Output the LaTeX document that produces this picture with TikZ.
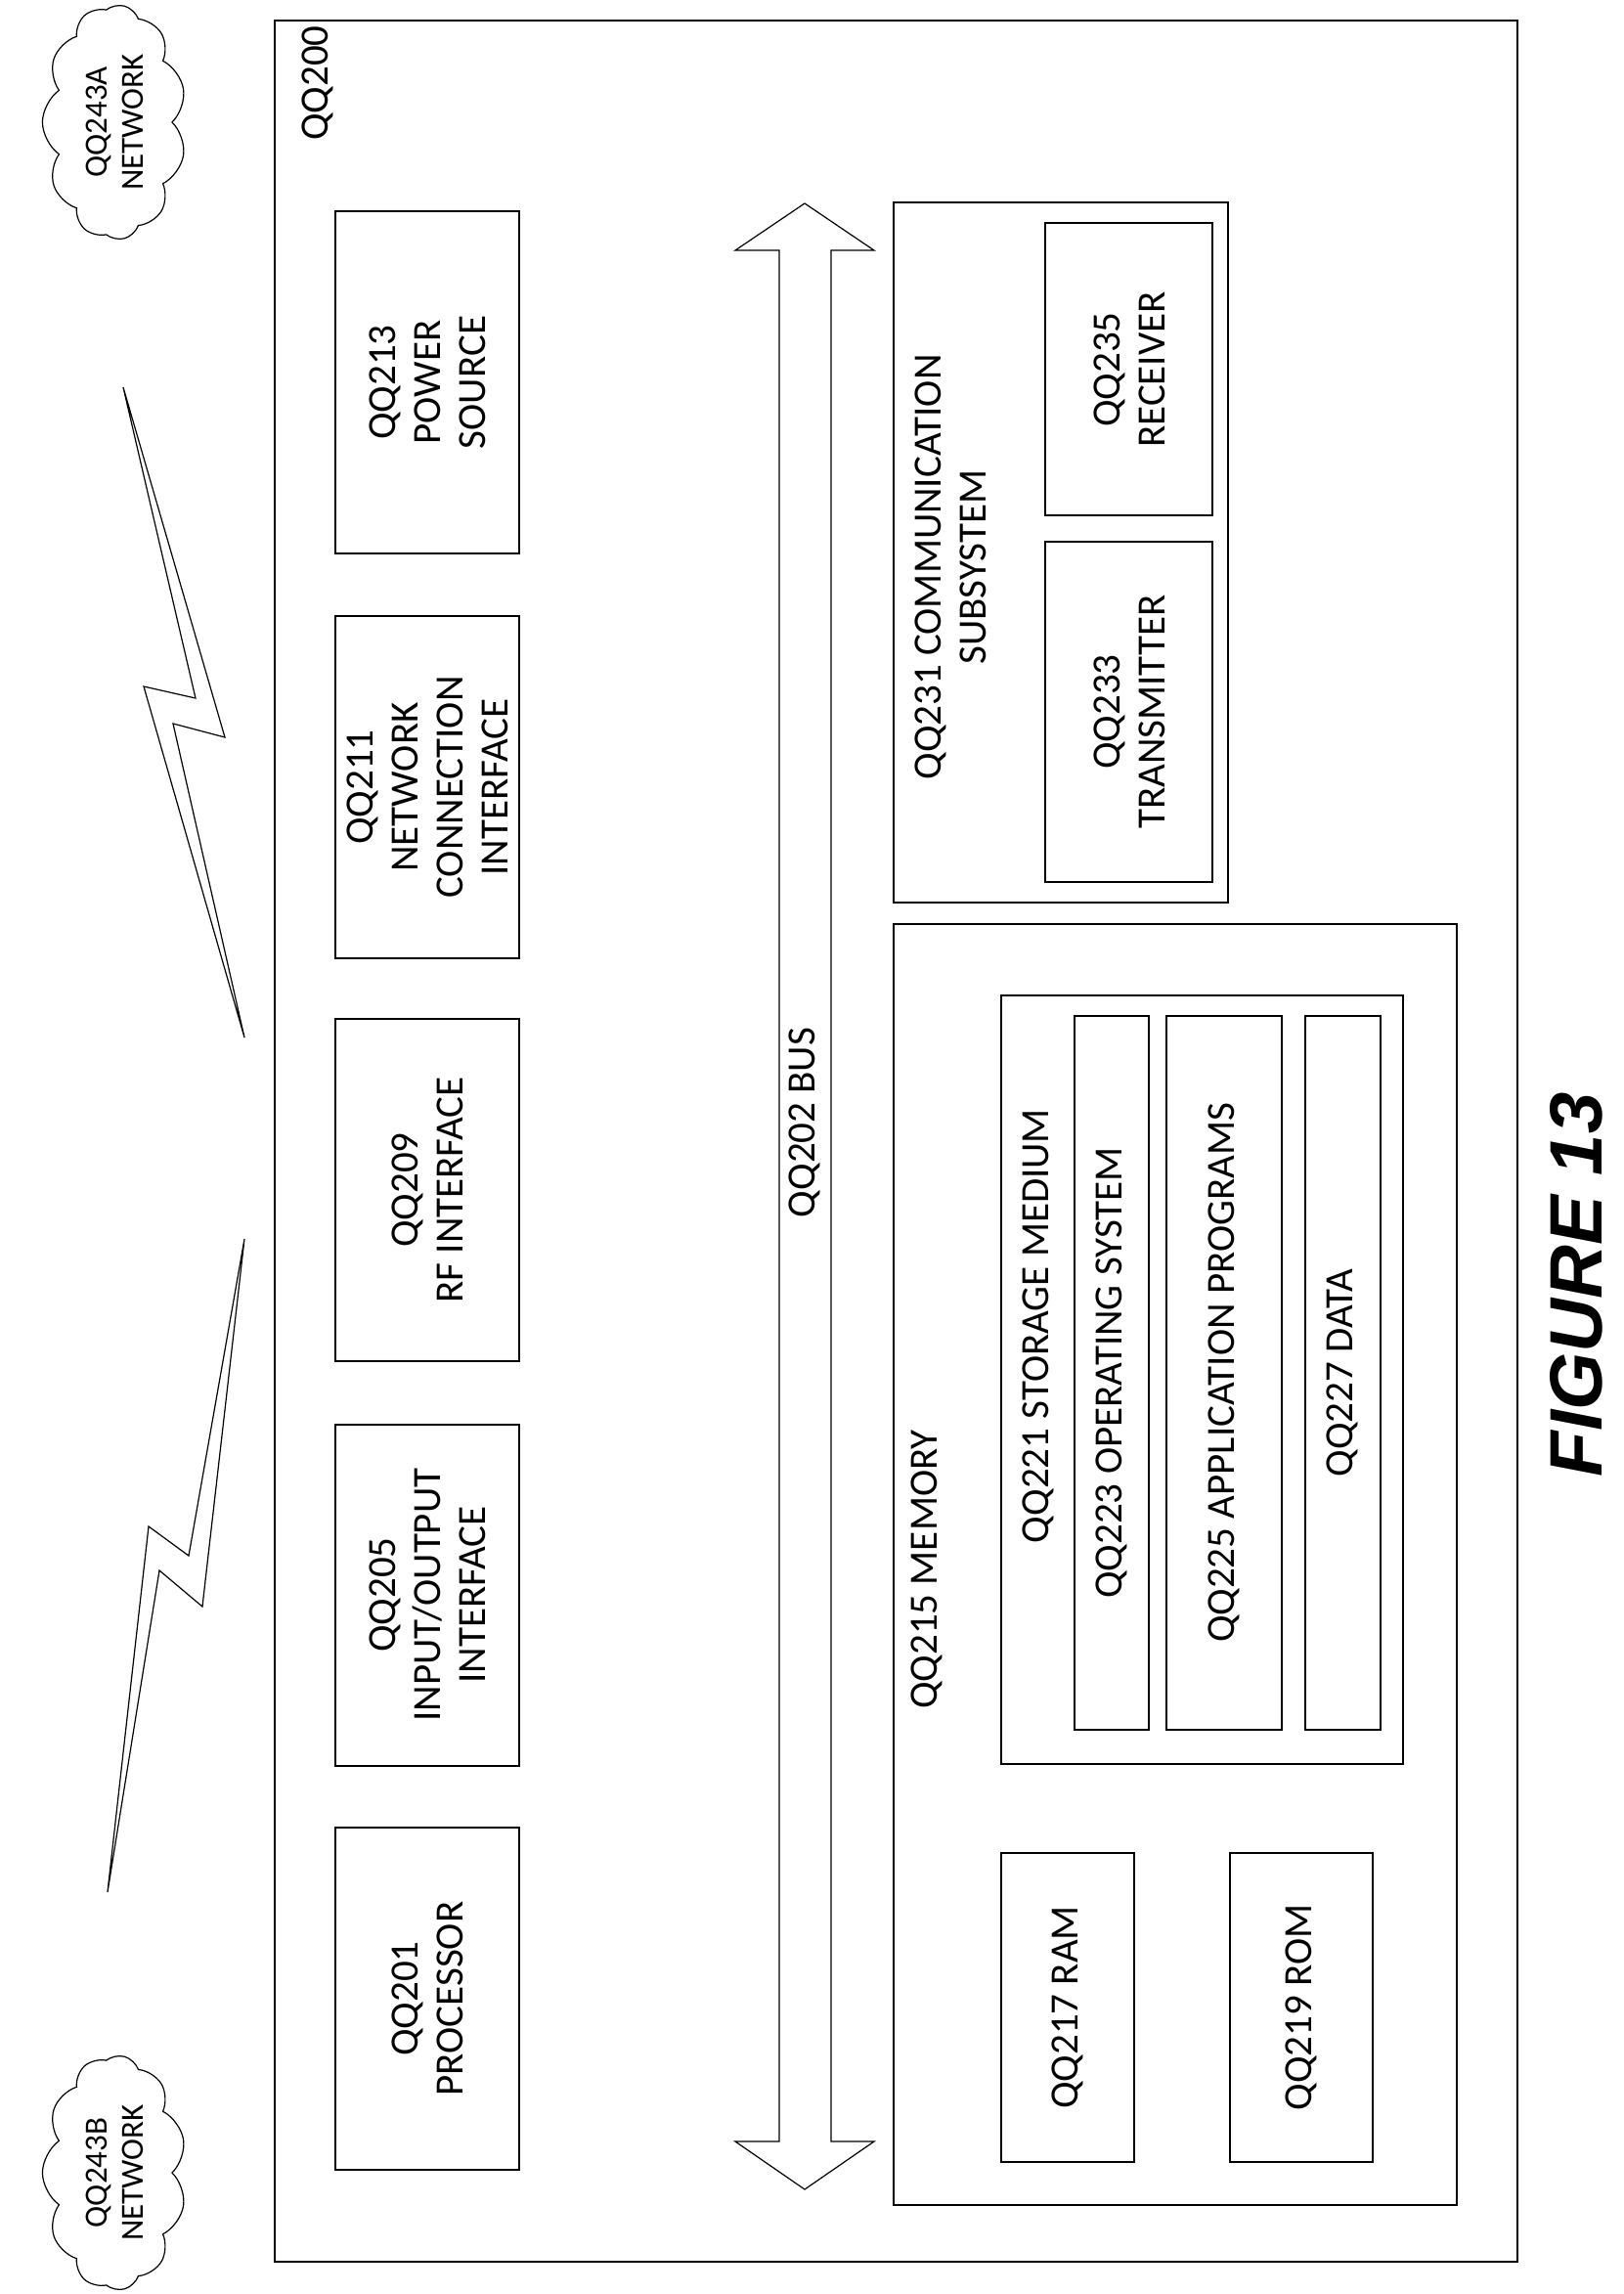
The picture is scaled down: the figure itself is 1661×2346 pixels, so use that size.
\documentclass[tikz,border=0pt]{standalone}
\usepackage{fontspec}
\setmainfont{Carlito}
\newfontfamily\figfont{Liberation Sans}
\usetikzlibrary{shapes.symbols}
\begin{document}
\begin{tikzpicture}[x=1pt,y=-1pt,
 box/.style={draw,line width=1.6pt},
 lbl/.style={rotate=90,align=center,font=\fontsize{41}{46}\selectfont},
 bolt/.style={draw,line width=1.2pt,fill=white,line join=miter},
 net/.style={cloud,draw,line width=1.2pt,cloud puffs=11,cloud puff arc=110,aspect=1.6,rotate=90,minimum width=240,minimum height=145,
 align=center,font=\fontsize{33}{37}\selectfont,inner sep=0pt}]
\useasboundingbox (0,0) rectangle (1661,2346);
% outer
\draw[box] (281,21) rectangle (1552,2313);
\node[lbl] (t200) at (325,85) {QQ200};
% left boxes
\draw[box] (343,216) rectangle (531,566); \node[lbl] (ps) at (437,391) {QQ213\\POWER\\SOURCE};
\draw[box] (343,630) rectangle (531,980); \node[lbl] (nci) at (437,805) {QQ211\\NETWORK\\CONNECTION\\INTERFACE};
\draw[box] (343,1042) rectangle (531,1392); \node[lbl] (rf) at (437,1217) {QQ209\\RF INTERFACE};
\draw[box] (343,1457) rectangle (531,1806); \node[lbl] (io) at (437,1631) {QQ205\\INPUT/OUTPUT\\INTERFACE};
\draw[box] (343,1869) rectangle (531,2219); \node[lbl] (pr) at (437,2044) {QQ201\\PROCESSOR};
% bus
\draw[line width=1.2pt] (797,256) -- (752,256) -- (823,208) -- (894,256) -- (850,256) -- (850,2190) -- (894,2190) -- (823,2239) -- (752,2190) -- (797,2190) -- cycle;
\node[lbl] (bus) at (823,1148) {QQ202 BUS};
% comm subsystem
\draw[box] (914,207) rectangle (1256,923);
\node[lbl] (cs) at (972,580) {QQ231 COMMUNICATION\\SUBSYSTEM};
\draw[box] (1069,228) rectangle (1240,527); \node[lbl] (rx) at (1155,378) {QQ235\\RECEIVER};
\draw[box] (1069,554) rectangle (1240,902); \node[lbl] (tx) at (1155,728) {QQ233\\TRANSMITTER};
% memory
\draw[box] (914,945) rectangle (1490,2255);
\node[lbl] (mem) at (948,1605) {QQ215 MEMORY};
\draw[box] (1024,1018) rectangle (1435,1804);
\node[lbl] (sm) at (1062,1356) {QQ221 STORAGE MEDIUM};
\draw[box] (1099,1039) rectangle (1175,1769); \node[lbl] (os) at (1137,1404) {QQ223 OPERATING SYSTEM};
\draw[box] (1193,1039) rectangle (1311,1769); \node[lbl] (ap) at (1252,1404) {QQ225 APPLICATION PROGRAMS};
\draw[box] (1335,1039) rectangle (1412,1769); \node[lbl] (da) at (1373,1404) {QQ227 DATA};
\draw[box] (1024,1895) rectangle (1160,2211); \node[lbl] (ram) at (1092,2053) {QQ217 RAM};
\draw[box] (1258,1895) rectangle (1404,2211); \node[lbl] (rom) at (1331,2053) {QQ219 ROM};
% clouds
\node[net] (na) at (117,125) {QQ243A\\NETWORK};
\node[net] (nb) at (117,2222) {QQ243B\\NETWORK};
% bolts
\draw[bolt] (126,396) -- (200,714) -- (147,702) -- (250,1061) -- (177,740) -- (230,754) -- cycle;
\draw[bolt] (250,1267) -- (193,1591) -- (152,1561) -- (110,1935) -- (163,1606) -- (207,1643) -- cycle;
% figure
\node[rotate=90,font=\fontsize{76}{80}\selectfont\figfont\bfseries\itshape] (fig) at (1612,1314) {FIGURE 13};
\end{tikzpicture}
\end{document}
